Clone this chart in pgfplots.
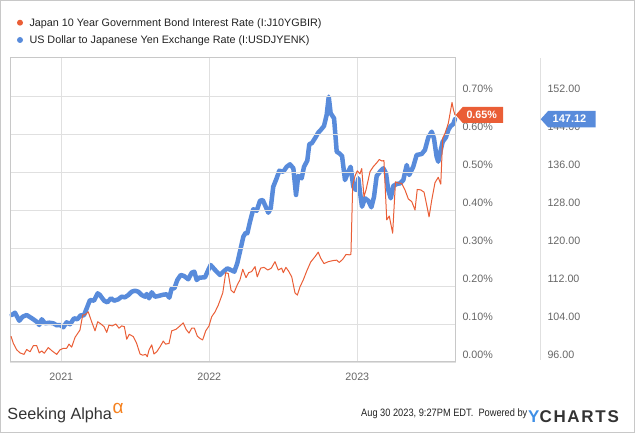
\documentclass[border=0pt]{standalone}
\usepackage{pgfplots}
\pgfplotsset{compat=1.18}
\usepackage{pgfplotstable}
\usepackage{fontspec}
\setmainfont{Liberation Sans}
\newfontfamily\narrowfont[FakeStretch=0.865]{Liberation Sans}
\definecolor{jred}{HTML}{EA5E36}
\definecolor{jblue}{HTML}{588BDB}
\definecolor{ylogo}{HTML}{3F8FE6}
\definecolor{gridc}{HTML}{E0E0E0}
\definecolor{framec}{HTML}{C8C8C8}
\definecolor{tickc}{HTML}{666666}
\definecolor{legc}{HTML}{222222}
\definecolor{footc}{HTML}{333333}
\definecolor{saorange}{HTML}{F58220}
\newcommand{\tickfont}{\fontsize{10.7bp}{12bp}\selectfont}
\newcommand{\legfont}{\fontsize{10.8bp}{12bp}\selectfont}
\pgfplotsset{/pgf/number format/assume math mode=true}

\pgfplotstableread{
yr rate
2020.660 0.068
2020.676 0.049
2020.699 0.032
2020.721 0.024
2020.748 0.020
2020.766 0.033
2020.789 0.027
2020.811 0.043
2020.834 0.043
2020.851 0.024
2020.868 0.029
2020.885 0.023
2020.912 0.038
2020.935 0.030
2020.969 0.020
2020.991 0.032
2021.014 0.036
2021.036 0.036
2021.052 0.047
2021.070 0.039
2021.093 0.065
2021.126 0.084
2021.145 0.124
2021.160 0.124
2021.182 0.132
2021.205 0.106
2021.228 0.082
2021.246 0.106
2021.268 0.100
2021.289 0.093
2021.307 0.078
2021.322 0.097
2021.345 0.095
2021.368 0.100
2021.390 0.089
2021.408 0.095
2021.426 0.093
2021.442 0.060
2021.459 0.073
2021.486 0.067
2021.509 0.049
2021.532 0.021
2021.550 0.018
2021.570 0.020
2021.581 0.014
2021.593 0.032
2021.611 0.045
2021.626 0.021
2021.645 0.027
2021.667 0.040
2021.689 0.055
2021.705 0.047
2021.728 0.049
2021.746 0.082
2021.775 0.086
2021.802 0.095
2021.824 0.103
2021.843 0.086
2021.863 0.076
2021.881 0.089
2021.899 0.089
2021.919 0.068
2021.937 0.062
2021.955 0.058
2021.976 0.082
2021.998 0.095
2022.016 0.119
2022.039 0.132
2022.061 0.150
2022.091 0.182
2022.111 0.235
2022.128 0.233
2022.147 0.189
2022.167 0.182
2022.189 0.203
2022.207 0.216
2022.226 0.244
2022.248 0.222
2022.266 0.235
2022.286 0.238
2022.309 0.251
2022.324 0.224
2022.347 0.247
2022.370 0.249
2022.395 0.242
2022.419 0.247
2022.444 0.264
2022.466 0.242
2022.489 0.247
2022.500 0.235
2022.518 0.249
2022.536 0.239
2022.557 0.224
2022.579 0.182
2022.595 0.176
2022.613 0.198
2022.635 0.216
2022.658 0.239
2022.685 0.263
2022.714 0.277
2022.736 0.289
2022.753 0.273
2022.775 0.259
2022.804 0.264
2022.838 0.267
2022.861 0.268
2022.878 0.262
2022.901 0.270
2022.924 0.283
2022.946 0.282
2022.957 0.283
2022.969 0.466
2022.984 0.489
2023.000 0.503
2023.018 0.495
2023.030 0.509
2023.045 0.435
2023.059 0.453
2023.086 0.501
2023.108 0.514
2023.131 0.524
2023.149 0.533
2023.165 0.529
2023.180 0.530
2023.199 0.374
2023.216 0.384
2023.239 0.339
2023.258 0.474
2023.277 0.471
2023.300 0.470
2023.322 0.453
2023.345 0.429
2023.368 0.422
2023.390 0.400
2023.405 0.454
2023.428 0.453
2023.451 0.447
2023.469 0.413
2023.485 0.382
2023.503 0.426
2023.525 0.472
2023.547 0.486
2023.564 0.468
2023.577 0.589
2023.593 0.602
2023.615 0.628
2023.640 0.683
2023.650 0.663
2023.660 0.650
}\ratetable

\pgfplotstableread{
yr yen
2020.665 105.89
2020.687 106.38
2020.716 104.69
2020.739 105.54
2020.766 105.89
2020.784 105.54
2020.811 104.99
2020.834 104.48
2020.851 103.79
2020.868 104.99
2020.890 104.15
2020.919 104.27
2020.946 104.15
2020.969 103.73
2020.991 103.79
2021.014 103.31
2021.036 104.36
2021.059 103.94
2021.086 105.20
2021.108 104.99
2021.131 105.83
2021.153 105.83
2021.176 107.64
2021.194 109.05
2021.221 108.91
2021.246 110.46
2021.261 110.10
2021.289 108.91
2021.311 108.57
2021.336 109.41
2021.358 108.91
2021.385 109.20
2021.408 109.75
2021.430 109.62
2021.453 110.10
2021.476 110.80
2021.498 111.01
2021.520 110.80
2021.543 110.10
2021.566 109.75
2021.577 110.31
2021.593 109.41
2021.611 110.67
2021.633 109.75
2021.655 109.89
2021.689 110.17
2021.712 110.25
2021.730 109.54
2021.746 111.51
2021.764 111.51
2021.784 113.26
2021.807 114.32
2021.829 114.11
2021.858 113.41
2021.881 114.80
2021.899 115.01
2021.915 113.26
2021.932 113.75
2021.971 113.83
2021.993 115.37
2022.009 116.42
2022.039 115.37
2022.072 114.32
2022.095 115.01
2022.122 115.72
2022.145 115.37
2022.169 115.01
2022.189 116.78
2022.207 119.22
2022.230 122.38
2022.246 123.22
2022.257 123.09
2022.275 125.54
2022.297 128.15
2022.320 127.85
2022.343 129.96
2022.361 130.10
2022.376 129.05
2022.399 127.43
2022.415 128.36
2022.432 132.90
2022.455 134.67
2022.473 136.27
2022.500 136.06
2022.523 137.11
2022.545 137.62
2022.568 136.78
2022.586 131.16
2022.601 135.16
2022.624 134.67
2022.640 137.11
2022.662 138.38
2022.676 141.89
2022.692 142.04
2022.714 143.09
2022.736 144.27
2022.753 144.84
2022.775 145.68
2022.793 148.00
2022.807 151.85
2022.820 148.36
2022.843 147.30
2022.861 140.27
2022.878 139.94
2022.897 139.37
2022.917 134.31
2022.939 136.06
2022.955 137.11
2022.973 132.90
2022.991 132.21
2023.007 134.67
2023.018 131.79
2023.032 128.69
2023.052 130.46
2023.074 129.96
2023.095 128.57
2023.113 130.80
2023.131 135.16
2023.153 136.06
2023.176 136.78
2023.194 135.72
2023.209 132.21
2023.226 130.46
2023.243 133.05
2023.266 133.47
2023.289 133.62
2023.311 134.31
2023.334 137.47
2023.351 135.37
2023.378 137.11
2023.401 139.58
2023.435 139.79
2023.457 140.63
2023.480 143.30
2023.503 144.48
2023.518 143.09
2023.536 139.22
2023.547 138.17
2023.564 140.63
2023.577 142.38
2023.599 143.30
2023.615 144.84
2023.631 145.68
2023.649 146.11
2023.660 147.12
}\yentable

\begin{document}
\begin{tikzpicture}
\useasboundingbox (0,0) rectangle (635bp,433bp);
\draw[framec, line width=1bp] (0.5bp,0.5bp) rectangle (634.5bp,432.5bp);

% legend
\fill[jred] (20bp,410.3bp) circle (3bp);
\node[anchor=base west, inner sep=0pt, font=\legfont, text=legc] at (29.3bp,406.3bp) {Japan 10 Year Government Bond Interest Rate (I:J10YGBIR)};
\fill[jblue] (20bp,393bp) circle (3bp);
\node[anchor=base west, inner sep=0pt, font=\legfont, text=legc] at (29.3bp,389bp) {US Dollar to Japanese Yen Exchange Rate (I:USDJYENK)};

% yen axis (labels only + blue line)
\begin{axis}[
  at={(10bp,71bp)}, anchor=south west,
  scale only axis, width=445.7bp, height=304bp,
  xmin=2020.6534, xmax=2023.6649,
  ymin=96, ymax=160,
  xtick=\empty,
  ytick={96,104,...,152},
  yticklabel pos=right,
  axis line style={draw=none},
  major tick length=0pt,
  tick label style={font=\tickfont, text=tickc, inner sep=0pt},
  yticklabel style={anchor=base west, xshift=91.6bp, yshift=3.7bp},
  yticklabel={\pgfmathprintnumber[fixed,fixed zerofill,precision=2]{\tick}},
  clip=false,
]
\addplot[jblue, line width=4.5bp, line join=round, line cap=round] table[x=yr,y=yen] {\yentable};
\coordinate (btip) at (axis cs:2023.6649,147.12);
\end{axis}

% rate axis (frame, grid, red line)
\begin{axis}[
  at={(10bp,71bp)}, anchor=south west,
  scale only axis, width=445.7bp, height=304bp,
  xmin=2020.6534, xmax=2023.6649,
  ymin=0, ymax=0.8,
  xtick={2021,2022,2023},
  xticklabels={2021,2022,2023},
  ytick={0,0.1,0.2,0.3,0.4,0.5,0.6,0.7},
  yticklabel pos=right,
  yticklabel={\pgfmathprintnumber[fixed,fixed zerofill,precision=2]{\tick}\%},
  grid=major, major grid style={gridc, line width=0.8bp},
  axis line style={framec, line width=1bp},
  major tick length=0pt,
  tick label style={font=\tickfont, text=tickc, inner sep=0pt},
  yticklabel style={anchor=base west, xshift=6.6bp, yshift=3.7bp},
  xticklabel style={anchor=north, yshift=-11bp},
  clip=false,
]
\addplot[jred, line width=1bp, line join=round] table[x=yr,y=rate] {\ratetable};
\coordinate (rtip) at (axis cs:2023.6649,0.65);
\end{axis}

% second-axis separator line
\draw[gridc, line width=1bp] (540.5bp,73bp) -- (540.5bp,375bp);

% callouts
\fill[jred] (rtip) -- ++(7bp,8bp) -- ++(40.3bp,0) -- ++(0,-16bp) -- ++(-40.3bp,0) -- cycle;
\node[text=white, inner sep=0pt, font=\fontsize{10.7bp}{12bp}\selectfont\bfseries] at ([xshift=26bp,yshift=0.2bp]rtip) {0.65\%};
\fill[jblue] ([xshift=85bp]btip) -- ++(7.5bp,8.3bp) -- ++(47.5bp,0) -- ++(0,-16.6bp) -- ++(-47.5bp,0) -- cycle;
\node[text=white, inner sep=0pt, font=\fontsize{11bp}{12bp}\selectfont\bfseries] at ([xshift=113.8bp,yshift=0.2bp]btip) {147.12};

% footer
\node[anchor=base west, inner sep=0pt, text=footc, font=\fontsize{16.2bp}{18bp}\selectfont] at (7.3bp,14bp) {Seeking Alpha};
\node[anchor=base west, inner sep=0pt, text=saorange, font=\fontsize{19bp}{20bp}\selectfont] at (112.5bp,19.7bp) {α};
\node[anchor=base west, inner sep=0pt, text=legc, font=\narrowfont\fontsize{10.7bp}{12bp}\selectfont] at (361bp,17bp) {Aug 30 2023, 9:27PM EDT.\ \ Powered by};
\node[anchor=base west, inner sep=0pt, font=\fontsize{17bp}{18bp}\selectfont\bfseries\addfontfeature{LetterSpace=10}] at (528bp,11bp) {\textcolor{ylogo}{Y}\textcolor{footc}{CHARTS}};
\end{tikzpicture}
\end{document}
